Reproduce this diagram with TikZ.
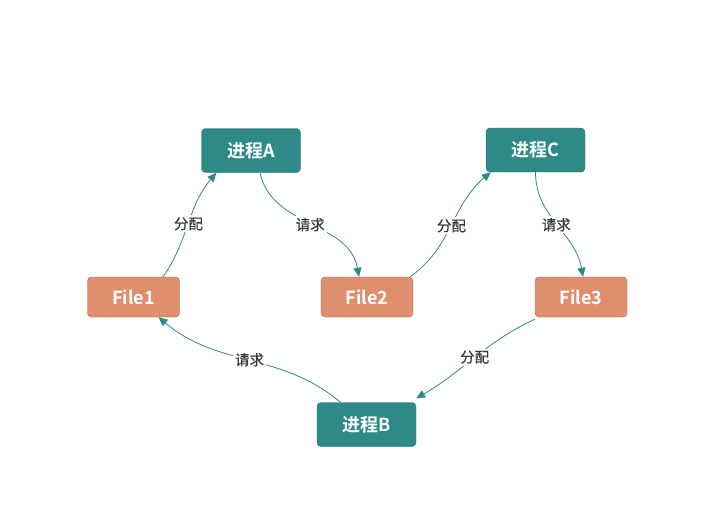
\documentclass[tikz,border=0pt]{standalone}
\usepackage{fontspec}
\setmainfont{Noto Sans CJK SC}
\newfontfamily\cjkbold{Noto Sans CJK SC Bold}
\newfontfamily\cjklabel[FakeBold=0.5]{Noto Sans CJK SC}
\usetikzlibrary{arrows.meta}
\definecolor{procteal}{HTML}{2E8A87}
\definecolor{fileorange}{HTML}{E08F6E}
\definecolor{labelgray}{HTML}{3A3A3A}

\begin{document}
\begin{tikzpicture}[x=1pt, y=-1pt,
    proc/.style={draw=procteal!80!black, rounded corners=4pt, fill=procteal, text=white,
        minimum width=99pt, minimum height=44pt, font=\cjkbold\fontsize{18}{18}\selectfont},
    file/.style={draw=fileorange!70!black, rounded corners=4pt, fill=fileorange, text=white,
        minimum width=92pt, minimum height=40pt, font=\cjkbold\fontsize{18}{18}\selectfont},
    lbl/.style={fill=white, text=labelgray, inner sep=2pt, font=\cjklabel\fontsize{14.5}{14.5}\selectfont},
    link/.style={draw=procteal, line width=0.8pt, -{Triangle[length=9pt, width=8pt]}}]
    \useasboundingbox (0,0) rectangle (723,515);

    \node[proc] (procA) at (251,150.5) {进程A};
    \node[proc] (procC) at (535.5,150) {进程C};
    \node[proc] (procB) at (366.5,424.5) {进程B};
    \node[file] (file1) at (133.5,297) {File1};
    \node[file] (file2) at (367,297) {File2};
    \node[file] (file3) at (581,297) {File3};

    \draw[link] ([xshift=29.5pt]file1.north) to[out=55, in=230]
        node[lbl, pos=0.5] {分配} ([xshift=15pt]procA.south west);
    \draw[link] ([xshift=9pt]procA.south) to[out=-78, in=100]
        node[lbl, pos=0.5] {请求} ([xshift=-8pt]file2.north);
    \draw[link] ([xshift=43pt]file2.north) to[out=35, in=220]
        node[lbl, pos=0.5] {分配} ([xshift=5pt]procC.south west);
    \draw[link] (procC.south) to[out=-90, in=100]
        node[lbl, pos=0.5] {请求} ([xshift=2pt]file3.north);
    \draw[link] ([yshift=-2pt]file3.south west) to[out=205, in=30]
        node[lbl, pos=0.5] {分配} ([yshift=4pt]procB.north east);
    \draw[link] ([xshift=-26pt]procB.north) to[out=140, in=-40]
        node[lbl, pos=0.5] {请求} ([xshift=25pt]file1.south);
\end{tikzpicture}
\end{document}
